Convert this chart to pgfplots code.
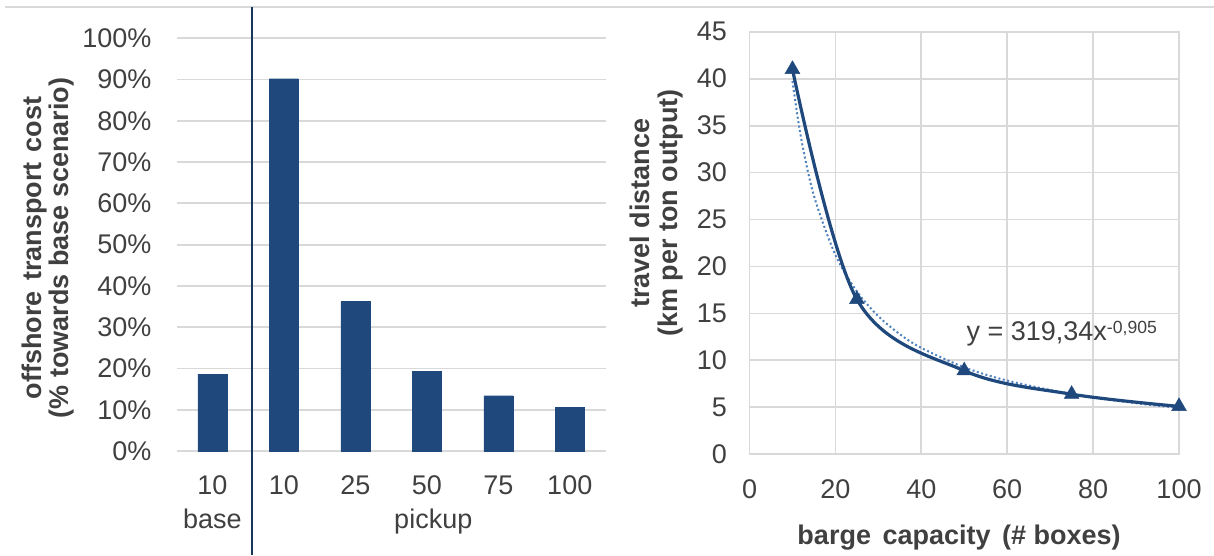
\documentclass[border=0pt]{standalone}
\usepackage{fontspec}
\setmainfont{Liberation Sans}
\usepackage{pgfplots}
\pgfplotsset{compat=1.18}
\definecolor{barblue}{RGB}{31,73,125}
\definecolor{trendblue}{RGB}{79,129,189}
\definecolor{gridgray}{RGB}{217,217,217}
\definecolor{txt}{RGB}{64,64,64}
\definecolor{sepblue}{RGB}{22,54,92}
\begin{document}
\fontsize{27}{26}\selectfont
\begin{tikzpicture}
\useasboundingbox (0pt,0pt) rectangle (1214pt,555pt);
\draw[gridgray, line width=2pt] (5pt,548pt) -- (1214pt,548pt);
% ---------------- left chart
\begin{axis}[
  at={(176.7pt,104pt)}, anchor=south west,
  scale only axis, width=428.8pt, height=412.7pt,
  xmin=-0.5, xmax=5.5, ymin=0, ymax=100,
  xtick={0,1,2,3,4,5}, xticklabels={10,10,25,50,75,100},
  ytick={0,10,20,30,40,50,60,70,80,90,100},
  yticklabels={0\%,10\%,20\%,30\%,40\%,50\%,60\%,70\%,80\%,90\%,100\%},
  axis line style={draw=none},
  major tick length=0pt,
  ymajorgrids, grid style={gridgray, line width=1.8pt},
  xticklabel style={anchor=center, inner sep=0pt, yshift=-34.5pt, text=txt},
  yticklabel style={anchor=east, inner sep=0pt, xshift=-25pt, text=txt},
  ylabel={offshore\hspace{0.1em} transport\hspace{0.1em} cost\\(\% towards base scenario)},
  ylabel style={at={(rel axis cs:-0.300,0.492)}, anchor=center, align=center, font=\bfseries\fontsize{27}{27}\selectfont, text=txt},
  ybar, bar width=29pt,
  clip=false,
]
\addplot[fill=barblue, draw=barblue] coordinates {(0,18.6) (1,90.2) (2,36.2) (3,19.3) (4,13.4) (5,10.5)};
\node[text=txt, anchor=base, inner sep=0pt] at (axis cs:0,0) [yshift=-77pt] {base};
\node[text=txt, anchor=base, inner sep=0pt] at (axis cs:3.09,0) [yshift=-77pt] {pickup};
\end{axis}
\draw[sepblue, line width=1.6pt] (251.7pt,548pt) -- (251.7pt,0pt);
% ---------------- right chart
\begin{axis}[
  at={(749.5pt,100.7pt)}, anchor=south west,
  scale only axis, width=429.5pt, height=422.6pt,
  xmin=0, xmax=100, ymin=0, ymax=45,
  xtick={0,20,40,60,80,100}, xticklabels={0,20,40,60,80,100},
  ytick={0,5,10,15,20,25,30,35,40,45},
  yticklabels={0,5,10,15,20,25,30,35,40,45},
  axis line style={gridgray, line width=1.8pt},
  major tick length=0pt,
  grid=major, grid style={gridgray, line width=1.8pt},
  xticklabel style={anchor=center, inner sep=0pt, yshift=-34.7pt, text=txt},
  yticklabel style={anchor=east, inner sep=0pt, xshift=-22.3pt, text=txt},
  ylabel={travel distance\\(km per ton output)},
  ylabel style={at={(rel axis cs:-0.2175,0.571)}, anchor=center, align=center, font=\bfseries\fontsize{27}{28}\selectfont, text=txt},
  xlabel={barge\hspace{0.15em} capacity\hspace{0.15em} (\# boxes)},
  xlabel style={at={(rel axis cs:0.488,-0.2146)}, anchor=base, inner sep=0pt, font=\bfseries\fontsize{27}{26}\selectfont, text=txt},
  clip=false,
]
\addplot[trendblue, line width=2pt, dash pattern=on 2pt off 2.5pt, smooth] coordinates {
(10,39.74) (12,33.70) (15,27.53) (20,21.22) (25,17.34) (30,14.70) (35,12.79) (40,11.33) (50,9.26) (60,7.85) (75,6.42) (90,5.44) (100,4.95)};
\addplot[barblue, line width=3.2pt, smooth, tension=0.55, mark=triangle*, mark size=8.5pt, mark options={fill=barblue, line width=0.5pt}] coordinates {
(10,41.0) (25,16.5) (50,8.9) (75,6.4) (100,5.1)};
\node[text=txt, anchor=base west, inner sep=0pt] at (axis cs:50.5,12.17) {y = 319,34x\raisebox{6.7pt}{\fontsize{17.6}{18}\selectfont -0,905}};
\end{axis}
\end{tikzpicture}
\end{document}
